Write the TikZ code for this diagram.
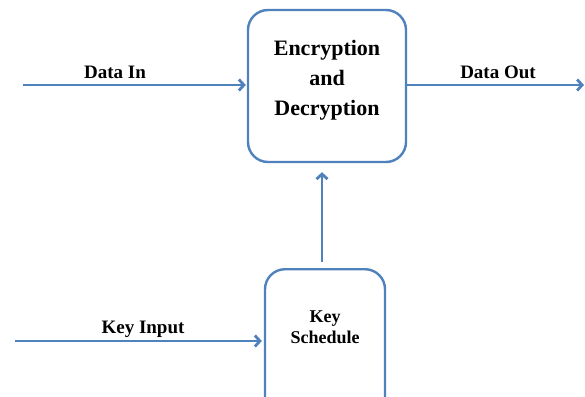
\documentclass[tikz,border=0pt]{standalone}
\usepackage{fontspec}
\setmainfont{Liberation Serif}
\usetikzlibrary{arrows.meta,positioning}
\definecolor{lineblue}{RGB}{79,129,189}

\begin{document}
\begin{tikzpicture}[x=1pt,y=-1pt,
	blockbox/.style={draw=lineblue, line width=2.4pt, rounded corners=20pt, fill=white},
	flow/.style={draw=lineblue, line width=2.8pt, -{Straight Barb[length=5pt,width=11pt]}},
	flowlabel/.style={font=\bfseries\fontsize{19}{23}\selectfont, inner sep=0pt}]
	\clip (0,0) rectangle (585,396);

	% boxes
	\node[blockbox, minimum width=158pt, minimum height=152pt] (crypt) at (327,86) {};
	\node[font=\bfseries\fontsize{22}{30}\selectfont, align=center, inner sep=0pt] (crypttext) at (327,80) {Encryption\\and\\Decryption};
	\node[blockbox, minimum width=120pt, minimum height=150pt, anchor=north] (keysched) at (325,268) {};
	\node[font=\bfseries\fontsize{18}{21}\selectfont, align=center, inner sep=0pt] (keytext) at (325,327) {Key\\Schedule};

	% connectors
	\coordinate (datain) at (23,85);
	\coordinate (dataout) at (585,85);
	\coordinate (keyin) at (15,341);
	\coordinate (keyup) at (322,262);
	\draw[flow, shorten >=1pt] (datain) -- (datain -| crypt.west);
	\draw[flow, shorten >=1pt] (crypt.east |- dataout) -- (dataout);
	\draw[flow, shorten >=9pt] (keyup) -- (keyup |- crypt.south);
	\draw[flow, shorten >=2pt] (keyin) -- (keyin -| keysched.west);

	% labels
	\node[flowlabel, anchor=base] (dinlabel) at (115,78) {Data In};
	\node[flowlabel, anchor=base] (doutlabel) at (498,78) {Data Out};
	\node[flowlabel, anchor=base] (kinlabel) at (143,333) {Key Input};
\end{tikzpicture}
\end{document}
